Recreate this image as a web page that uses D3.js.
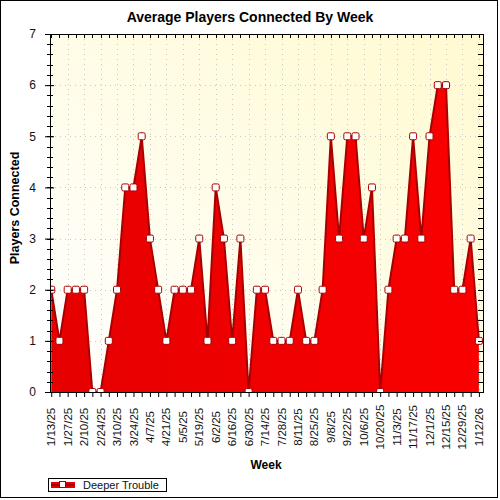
<!DOCTYPE html>
<html>
<head>
<meta charset="utf-8">
<script src="https://cdn.jsdelivr.net/npm/d3@7"></script>
<style>
  body { margin: 0; background: #fff; }
  text { font-family: "Liberation Sans", Arial, sans-serif; }
</style>
</head>
<body>
<div id="chart"></div>
<script>
// weekly averages, 1/13/25 .. 1/12/26
const players = [2, 1, 2, 2, 2, 0, 0, 1, 2, 4,
                 4, 5, 3, 2, 1, 2, 2, 2, 3, 1,
                 4, 3, 1, 3, 0, 2, 2, 1, 1, 1,
                 2, 1, 1, 2, 5, 3, 5, 5, 3, 4,
                 0, 2, 3, 3, 5, 3, 5, 6, 6, 2,
                 2, 3, 1];
const tickLabels = ['1/13/25', '1/27/25', '2/10/25', '2/24/25', '3/10/25', '3/24/25', '4/7/25',
                    '4/21/25', '5/5/25', '5/19/25', '6/2/25', '6/16/25', '6/30/25', '7/14/25',
                    '7/28/25', '8/11/25', '8/25/25', '9/8/25', '9/22/25', '10/6/25', '10/20/25',
                    '11/3/25', '11/17/25', '12/1/25', '12/15/25', '12/29/25', '1/12/26'];
const yTicks = [0, 1, 2, 3, 4, 5, 6, 7];
const seriesName = 'Deeper Trouble';

const width = 500;
const height = 500;
const plot = { left: 50, right: 483, top: 34, bottom: 392 };

const svg = d3.select('#chart').append('svg')
    .attr('width', width)
    .attr('height', height);

const defs = svg.append('defs');

// soft yellow background, lighter toward bottom-left
const bg = defs.append('linearGradient')
    .attr('id', 'bg')
    .attr('x1', '0').attr('y1', '1').attr('x2', '1').attr('y2', '0');
bg.append('stop').attr('offset', '0%').attr('stop-color', '#ffffff');
bg.append('stop').attr('offset', '100%').attr('stop-color', '#fffad0');

const redFill = defs.append('linearGradient')
    .attr('id', 'redfill')
    .attr('x1', '0').attr('y1', '0').attr('x2', '1').attr('y2', '0');
redFill.append('stop').attr('offset', '0%').attr('stop-color', '#e60000');
redFill.append('stop').attr('offset', '100%').attr('stop-color', '#fa0000');

defs.append('clipPath').attr('id', 'clip')
  .append('rect')
    .attr('x', plot.left)
    .attr('y', plot.top)
    .attr('width', plot.right - plot.left)
    .attr('height', plot.bottom - plot.top);

// outer frame
svg.append('rect')
    .attr('x', 0.5).attr('y', 0.5)
    .attr('width', 497).attr('height', 497)
    .attr('fill', 'none')
    .attr('stroke', '#000');

const x = d3.scaleLinear()
    .domain([-0.15, 52.5])
    .range([plot.left, plot.right]);

const y = d3.scaleLinear()
    .domain([0, 7])
    .range([plot.bottom, plot.top]);

const weekIdx = d3.range(players.length);
const majorIdx = tickLabels.map((d, i) => i * 2);

svg.append('rect')
    .attr('x', plot.left).attr('y', plot.top)
    .attr('width', plot.right - plot.left)
    .attr('height', plot.bottom - plot.top)
    .attr('fill', 'url(#bg)');

// dotted grid
svg.append('g')
    .selectAll('line')
    .data(yTicks.slice(1, -1))
    .enter().append('line')
    .attr('x1', plot.left).attr('x2', plot.right)
    .attr('y1', d => Math.round(y(d)) + 0.5)
    .attr('y2', d => Math.round(y(d)) + 0.5)
    .attr('stroke', '#c8c8c8')
    .attr('stroke-dasharray', '1,4');

svg.append('g')
    .selectAll('line')
    .data(majorIdx.slice(1))
    .enter().append('line')
    .attr('x1', d => Math.round(x(d)) + 0.5)
    .attr('x2', d => Math.round(x(d)) + 0.5)
    .attr('y1', plot.top).attr('y2', plot.bottom)
    .attr('stroke', '#c8c8c8')
    .attr('stroke-dasharray', '1,4');

// area + outline
const area = d3.area()
    .x((d, i) => x(i))
    .y0(y(0))
    .y1(d => y(d));

const line = d3.line()
    .x((d, i) => x(i))
    .y(d => y(d));

const g = svg.append('g').attr('clip-path', 'url(#clip)');

g.append('path')
    .datum(players)
    .attr('d', area)
    .attr('fill', 'url(#redfill)');

g.append('path')
    .datum(players)
    .attr('d', line)
    .attr('fill', 'none')
    .attr('stroke', '#a80000')
    .attr('stroke-width', 2);

g.selectAll('.marker')
    .data(players)
    .enter().append('rect')
    .attr('class', 'marker')
    .attr('x', (d, i) => x(i) - 3.5)
    .attr('y', d => y(d) - 3.5)
    .attr('width', 7)
    .attr('height', 7)
    .attr('rx', 1.5)
    .attr('fill', '#fff')
    .attr('stroke', '#a80000')
    .attr('stroke-width', 1);

// left axis with straddling ticks
const yMinor = d3.range(0, 35).map(d => d / 5);
svg.append('g')
    .selectAll('line')
    .data(yMinor)
    .enter().append('line')
    .attr('x1', 47).attr('x2', 53)
    .attr('y1', d => Math.round(y(d)) + 0.5)
    .attr('y2', d => Math.round(y(d)) + 0.5)
    .attr('stroke', '#000');

const yAxis = svg.append('g')
    .attr('transform', `translate(${plot.left},0)`)
    .call(d3.axisLeft(y).tickValues(yTicks).tickFormat(d3.format('d')).tickSize(5).tickPadding(9));
yAxis.select('.domain').remove();
yAxis.selectAll('.tick line').attr('x2', -5).attr('x1', 4);
yAxis.selectAll('text')
    .attr('font-size', 12)
    .attr('font-family', '"Liberation Sans", Arial, sans-serif')
    .attr('fill', '#111');

// right axis, inward ticks
svg.append('g')
    .selectAll('line')
    .data(yMinor)
    .enter().append('line')
    .attr('x1', plot.right - 5).attr('x2', plot.right)
    .attr('y1', d => Math.round(y(d)) + 0.5)
    .attr('y2', d => Math.round(y(d)) + 0.5)
    .attr('stroke', '#000');

// top axis, inward weekly ticks
svg.append('g')
    .selectAll('line')
    .data(weekIdx)
    .enter().append('line')
    .attr('x1', d => Math.round(x(d)) + 0.5)
    .attr('x2', d => Math.round(x(d)) + 0.5)
    .attr('y1', plot.top).attr('y2', plot.top + 4)
    .attr('stroke', '#000');

// bottom axis
const xAxis = svg.append('g')
    .attr('transform', `translate(0,${plot.bottom})`)
    .call(d3.axisBottom(x).tickValues(weekIdx).tickSize(5).tickFormat(''));
xAxis.select('.domain').remove();
xAxis.selectAll('.tick line').attr('stroke', '#000');

svg.append('g')
    .selectAll('text')
    .data(tickLabels)
    .enter().append('text')
    .attr('transform', (d, i) => `translate(${x(majorIdx[i])},427) rotate(-90)`)
    .attr('text-anchor', 'middle')
    .attr('dy', '0.35em')
    .attr('font-size', 11.5)
    .attr('fill', '#111')
    .text(d => d);

// plot frame
svg.append('rect')
    .attr('x', plot.left + 0.5).attr('y', plot.top + 0.5)
    .attr('width', plot.right - plot.left)
    .attr('height', plot.bottom - plot.top)
    .attr('fill', 'none')
    .attr('stroke', '#000');

// titles
svg.append('text')
    .attr('x', 250).attr('y', 22)
    .attr('text-anchor', 'middle')
    .attr('font-size', 14)
    .attr('font-weight', 'bold')
    .text('Average Players Connected By Week');

svg.append('text')
    .attr('transform', 'translate(19,208) rotate(-90)')
    .attr('text-anchor', 'middle')
    .attr('font-size', 12.5)
    .attr('font-weight', 'bold')
    .text('Players Connected');

svg.append('text')
    .attr('x', 266).attr('y', 469)
    .attr('text-anchor', 'middle')
    .attr('font-size', 12)
    .attr('font-weight', 'bold')
    .text('Week');

// legend
const lg = svg.append('g');
lg.append('rect')
    .attr('x', 48.5).attr('y', 478.5)
    .attr('width', 118).attr('height', 13)
    .attr('fill', '#fff')
    .attr('stroke', '#000');
lg.append('rect')
    .attr('x', 51).attr('y', 482)
    .attr('width', 24).attr('height', 6)
    .attr('fill', '#e60000');
lg.append('line')
    .attr('x1', 51).attr('x2', 75)
    .attr('y1', 485).attr('y2', 485)
    .attr('stroke', '#a80000')
    .attr('stroke-width', 2);
lg.append('rect')
    .attr('x', 59.5).attr('y', 481.5)
    .attr('width', 6).attr('height', 6)
    .attr('fill', '#fff')
    .attr('stroke', '#a80000');
lg.append('text')
    .attr('x', 83).attr('y', 489)
    .attr('font-size', 11)
    .attr('fill', '#111')
    .text(seriesName);
</script>
</body>
</html>
